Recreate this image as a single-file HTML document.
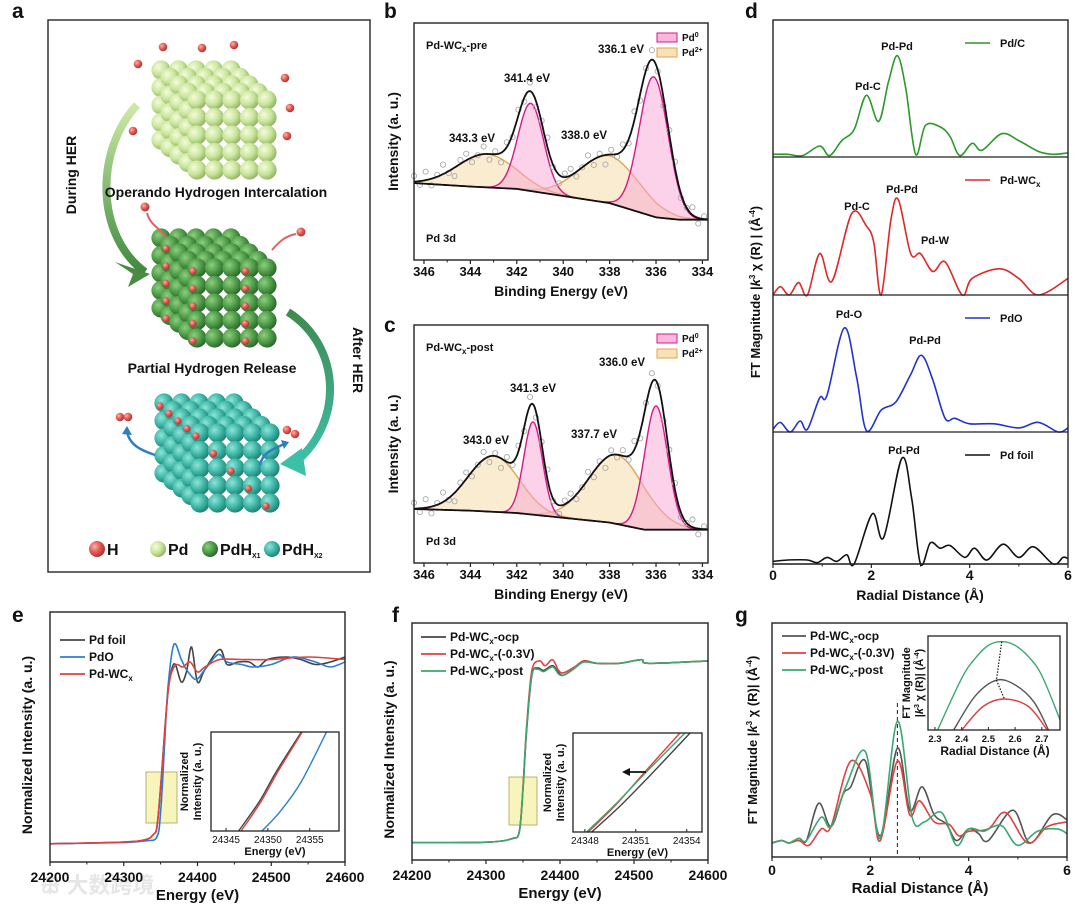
<!DOCTYPE html>
<html><head><meta charset="utf-8">
<style>
html,body{margin:0;padding:0;background:#fff;}
svg{display:block;font-family:"Liberation Sans",Arial,sans-serif;font-weight:bold;}
</style></head>
<body>
<svg id="fig" width="1080" height="910" viewBox="0 0 1080 910" xmlns="http://www.w3.org/2000/svg">
<defs>
<radialGradient id="gPd" cx="35%" cy="35%" r="70%"><stop offset="0" stop-color="#f4fbdc"/><stop offset="0.55" stop-color="#c9e59b"/><stop offset="1" stop-color="#8fb262"/></radialGradient>
<radialGradient id="gX1" cx="35%" cy="35%" r="70%"><stop offset="0" stop-color="#8bcf7e"/><stop offset="0.55" stop-color="#4e9a48"/><stop offset="1" stop-color="#2a6428"/></radialGradient>
<radialGradient id="gX2" cx="35%" cy="35%" r="70%"><stop offset="0" stop-color="#8ee5d8"/><stop offset="0.55" stop-color="#3cb5a5"/><stop offset="1" stop-color="#1f7d70"/></radialGradient>
<radialGradient id="gH" cx="35%" cy="35%" r="70%"><stop offset="0" stop-color="#ffb0a8"/><stop offset="0.5" stop-color="#e55a55"/><stop offset="1" stop-color="#a83030"/></radialGradient>
<linearGradient id="arrL" x1="0" y1="0" x2="0" y2="1"><stop offset="0" stop-color="#cdeaa8"/><stop offset="1" stop-color="#3f8a3e"/></linearGradient>
<linearGradient id="arrR" x1="0" y1="0" x2="0" y2="1"><stop offset="0" stop-color="#3f8a4e"/><stop offset="1" stop-color="#3cc0a8"/></linearGradient>
</defs>
</svg>
<script>
// ---------------- DATA ----------------
const bPd0Centers=[336.1,341.4], bPd0Amps=[0.59,0.37], bPd0Sig=[0.62,0.55];
const bPd2Centers=[338.0,343.3], bPd2Amps=[0.20,0.14], bPd2Sig=[1.3,1.25];
const bBgE=[346.5,344,342,340,338,337,336,335,333.5], bBgV=[0.325,0.31,0.30,0.27,0.24,0.21,0.18,0.17,0.17];
const bLabels=["343.3 eV","341.4 eV","338.0 eV","336.1 eV"];
const cPd0Centers=[336.0,341.3], cPd0Amps=[0.52,0.39], cPd0Sig=[0.5,0.4];
const cPd2Centers=[337.7,343.0], cPd2Amps=[0.29,0.235], cPd2Sig=[1.2,1.1];
const cBgE=[346.5,344,342,340,338,336.5,335,333.5], cBgV=[0.227,0.22,0.21,0.19,0.17,0.14,0.14,0.14];
const cLabels=["343.0 eV","341.3 eV","337.7 eV","336.0 eV"];
const xpsNoise=[0.03,-0.02,0.045,-0.035,0.01,0.05,-0.01,-0.045,0.02,0.035,-0.025,0.0,0.04,-0.03,0.015,-0.05,0.025,-0.015];
const xpsTicks=[346,344,342,340,338,336,334];
const dPdC=[[0,0.02],[0.3,0.02],[0.6,0.01],[0.95,0.08],[1.15,0.01],[1.4,0.12],[1.65,0.2],[1.9,0.45],[2.15,0.26],[2.35,0.55],[2.53,0.74],[2.7,0.5],[2.9,0.02],[3.1,0.23],[3.4,0.22],[3.6,0.15],[3.8,0.01],[4.05,0.1],[4.25,0.05],[4.65,0.17],[5.0,0.12],[5.4,0.04],[5.7,0.02],[6,0.03]];
const dPdWCx=[[0,0.0],[0.15,0.06],[0.33,0.0],[0.52,0.09],[0.7,0.0],[0.95,0.3],[1.2,0.1],[1.6,0.59],[1.9,0.5],[2.05,0.38],[2.2,0.0],[2.4,0.55],[2.55,0.69],[2.8,0.3],[3.0,0.3],[3.25,0.17],[3.5,0.24],[3.85,0.0],[4.05,0.12],[4.6,0.19],[5.0,0.12],[5.4,0.0],[6,0.12]];
const dPdO=[[0,0.02],[0.15,0.07],[0.35,0.0],[0.55,0.08],[0.7,0.02],[0.95,0.25],[1.1,0.27],[1.45,0.76],[1.7,0.4],[1.9,0.01],[2.2,0.16],[2.5,0.22],[2.8,0.42],[3.02,0.56],[3.25,0.38],[3.5,0.1],[3.7,0.1],[4.0,0.06],[4.5,0.06],[5.0,0.03],[5.4,0.07],[5.8,0.0],[6,0.03]];
const dFoil=[[0,0.02],[0.3,0.03],[0.7,0.03],[0.9,0.01],[1.1,0.05],[1.3,0.02],[1.5,0.07],[1.65,0.0],[2.02,0.38],[2.25,0.2],[2.62,0.8],[2.82,0.5],[3.0,0.0],[3.2,0.16],[3.4,0.12],[3.6,0.14],[3.9,0.05],[4.1,0.12],[4.35,0.03],[4.68,0.15],[5.0,0.05],[5.3,0.13],[5.7,0.0],[5.9,0.05],[6,0.04]];
const dTicks=[0,2,4,6];
const eFoil=[[24200,0.073],[24300,0.08],[24330,0.09],[24340,0.11],[24345,0.14],[24350,0.3],[24355,0.5],[24360,0.68],[24365,0.77],[24370,0.79],[24378,0.72],[24385,0.76],[24392,0.86],[24400,0.72],[24410,0.77],[24430,0.85],[24440,0.79],[24455,0.8],[24470,0.8],[24482,0.78],[24495,0.81],[24520,0.82],[24540,0.81],[24560,0.79],[24580,0.8],[24600,0.82]];
const ePdO=[[24200,0.073],[24300,0.078],[24330,0.085],[24345,0.1],[24350,0.2],[24355,0.45],[24360,0.7],[24368,0.87],[24378,0.81],[24385,0.77],[24398,0.73],[24410,0.77],[24428,0.83],[24440,0.8],[24460,0.79],[24475,0.78],[24500,0.79],[24530,0.82],[24560,0.8],[24580,0.78],[24600,0.8]];
const eWCx=[[24200,0.073],[24300,0.08],[24330,0.09],[24340,0.11],[24345,0.14],[24350,0.3],[24355,0.5],[24360,0.68],[24365,0.76],[24372,0.79],[24380,0.78],[24390,0.8],[24400,0.76],[24410,0.78],[24430,0.81],[24460,0.81],[24500,0.81],[24550,0.82],[24600,0.81]];
const eInFoil=[[24346.5,0],[24349,0.3],[24351,0.6],[24354,1.0]];
const eInWCx=[[24346.8,0],[24349.2,0.3],[24351.2,0.6],[24354.1,1.0]];
const eInPdO=[[24349.3,0],[24351.5,0.2],[24354,0.5],[24357,1.0]];
const eTicks=[24200,24300,24400,24500,24600], eInTicks=[24345,24350,24355];
const fOcp=[[24200,0.073],[24300,0.075],[24335,0.09],[24345,0.12],[24350,0.3],[24355,0.55],[24362,0.78],[24370,0.81],[24378,0.8],[24390,0.82],[24398,0.79],[24405,0.78],[24420,0.81],[24432,0.84],[24450,0.83],[24480,0.83],[24510,0.845],[24520,0.83],[24600,0.84]];
const fNeg=[[24200,0.073],[24300,0.075],[24335,0.09],[24345,0.12],[24350,0.31],[24355,0.57],[24362,0.8],[24372,0.84],[24380,0.82],[24390,0.845],[24398,0.8],[24405,0.79],[24420,0.815],[24432,0.84],[24450,0.83],[24480,0.83],[24510,0.845],[24520,0.83],[24600,0.84]];
const fPost=[[24200,0.073],[24300,0.075],[24335,0.09],[24345,0.12],[24350,0.3],[24355,0.56],[24362,0.78],[24370,0.805],[24378,0.795],[24390,0.815],[24398,0.785],[24405,0.78],[24420,0.81],[24432,0.835],[24450,0.83],[24480,0.83],[24510,0.845],[24520,0.83],[24600,0.84]];
const fInOcp=[[24348.4,0],[24350,0.25],[24352,0.6],[24354.2,1.0]];
const fInNeg=[[24348.2,0],[24349.8,0.27],[24351.5,0.6],[24353.6,1.0]];
const fInPost=[[24348.1,0],[24349.8,0.28],[24351.7,0.62],[24353.9,1.0]];
const fInTicks=[24348,24351,24354];
const gOcp=[[0,0.06],[0.2,0.07],[0.35,0.06],[0.55,0.08],[0.7,0.07],[0.95,0.23],[1.2,0.13],[1.45,0.27],[1.6,0.3],[1.9,0.41],[2.2,0.09],[2.55,0.465],[2.8,0.2],[3.05,0.3],[3.3,0.18],[3.55,0.14],[3.75,0.07],[4.0,0.12],[4.2,0.1],[4.4,0.07],[4.9,0.2],[5.25,0.06],[5.7,0.18],[6,0.16]];
const gNeg=[[0,0.06],[0.2,0.07],[0.35,0.06],[0.55,0.07],[0.75,0.05],[1.0,0.12],[1.2,0.13],[1.6,0.41],[2.0,0.27],[2.2,0.07],[2.55,0.41],[2.8,0.18],[3.0,0.24],[3.3,0.15],[3.6,0.14],[3.8,0.09],[4.0,0.11],[4.4,0.12],[4.75,0.19],[5.2,0.06],[5.6,0.13],[6,0.15]];
const gPost=[[0,0.06],[0.2,0.07],[0.35,0.06],[0.55,0.08],[0.7,0.07],[1.0,0.17],[1.2,0.13],[1.5,0.3],[1.9,0.45],[2.2,0.08],[2.55,0.58],[2.85,0.17],[3.1,0.15],[3.45,0.19],[3.75,0.05],[4.0,0.12],[4.3,0.11],[4.5,0.13],[4.7,0.13],[5.0,0.05],[5.4,0.11],[5.8,0.12],[6,0.1]];
const gInPost=[[2.31,0.0],[2.4,0.55],[2.45,0.76],[2.5,0.9],[2.55,0.94],[2.6,0.9],[2.65,0.78],[2.7,0.58],[2.768,0.11]];
const gInOcp=[[2.37,0.0],[2.45,0.36],[2.53,0.53],[2.6,0.48],[2.67,0.3],[2.725,0.0]];
const gInNeg=[[2.4,0.0],[2.48,0.25],[2.56,0.33],[2.65,0.25],[2.72,0.0]];
const gTicks=[0,2,4,6], gInTicks=[2.3,2.4,2.5,2.6,2.7];

// ---------------- HELPERS ----------------
const NS='http://www.w3.org/2000/svg';
const svg=document.getElementById('fig');
function mk(tag,attrs,parent){const e=document.createElementNS(NS,tag);for(const k in attrs)e.setAttribute(k,attrs[k]);(parent||svg).appendChild(e);return e;}
function lin(d0,d1,r0,r1){return v=>r0+(v-d0)*(r1-r0)/(d1-d0);}
function smooth(pts){let d='M'+pts[0][0].toFixed(1)+','+pts[0][1].toFixed(1);
 for(let i=0;i<pts.length-1;i++){const p0=pts[Math.max(0,i-1)],p1=pts[i],p2=pts[i+1],p3=pts[Math.min(pts.length-1,i+2)];
 const c1=[p1[0]+(p2[0]-p0[0])/6,p1[1]+(p2[1]-p0[1])/6],c2=[p2[0]-(p3[0]-p1[0])/6,p2[1]-(p3[1]-p1[1])/6];
 d+=' C'+c1.map(v=>v.toFixed(1))+' '+c2.map(v=>v.toFixed(1))+' '+p2[0].toFixed(1)+','+p2[1].toFixed(1);}return d;}
function txt(x,y,s,size,anchor,parent){const t=mk('text',{x:x,y:y,'font-size':size||12,'text-anchor':anchor||'start',fill:'#111'},parent);t.innerHTML=s;return t;}
function vtxt(x,y,s,size,parent,rot){const t=mk('text',{x:0,y:0,'font-size':size||13,'text-anchor':'middle',fill:'#111',transform:'translate('+x+','+y+') rotate('+(rot||-90)+')'},parent);t.innerHTML=s;return t;}
function frame(x0,y0,x1,y1,name){const r=mk('rect',{x:x0,y:y0,width:x1-x0,height:y1-y0,fill:'none',stroke:'#222','stroke-width':1.4});return r;}
function interp(arr,x){for(let i=0;i<arr.length-1;i++){if(x>=arr[i][0]&&x<=arr[i+1][0]||x<=arr[i][0]&&x>=arr[i+1][0]){const t=(x-arr[i][0])/(arr[i+1][0]-arr[i][0]);return arr[i][1]+t*(arr[i+1][1]-arr[i][1]);}}return arr[arr.length-1][1];}
function xTicks(g,sx,ticks,yb,labY,size,minor){ticks.forEach(t=>{mk('line',{x1:sx(t),x2:sx(t),y1:yb,y2:yb+4,stroke:'#222','stroke-width':1.2},g);txt(sx(t),labY,String(t),size||14,'middle',g);});
 if(minor)minor.forEach(t=>mk('line',{x1:sx(t),x2:sx(t),y1:yb,y2:yb+2.5,stroke:'#222','stroke-width':1},g));}
function panelLabel(x,y,s){const t=txt(x,y,s,21,'start');}

const wm=txt(40,893,'ꕥ 大数跨境',22,'start');
wm.setAttribute('fill','#e6e6e6');
wm.setAttribute('font-family','"Liberation Sans","Noto Sans CJK SC",sans-serif');



// ---------------- PANEL A ----------------
const ga=mk('g',{});


panelLabel(12,18,'a');
mk('rect',{x:48,y:20,width:322,height:552,fill:'#fff',stroke:'#333','stroke-width':1.5},ga);
function cube(x0,y0,fill,hSet,name){const g=mk('g',{},ga);
 const s=17.5,dx=-9,dy=-7.5,r=9.6;
 for(let k=4;k>=0;k--)for(let j=0;j<5;j++)for(let i=0;i<5;i++){
  if(k>0&&i>0&&j>0)continue;
  const cx=x0+i*s+k*dx,cy=y0+j*s+k*dy;
  mk('circle',{cx:cx,cy:cy,r:r,fill:'url(#'+fill+')'},g);
  if(hSet&&((i*7+j*3+k*5)%hSet===0))mk('circle',{cx:cx-4,cy:cy+3,r:3.6,fill:'url(#gH)'},g);}
 return g;}
const la=mk('path',{d:'M137,105 C95,150 95,235 145,272',fill:'none',stroke:'url(#arrL)','stroke-width':8},ga);

mk('path',{d:'M115,262 L150,274 L128,287 L133,274 Z',fill:'#4a8a45'},ga);
const ra=mk('path',{d:'M288,312 C340,345 345,420 296,462',fill:'none',stroke:'url(#arrR)','stroke-width':8},ga);

mk('path',{d:'M280,464 L302,448 L306,476 Z',fill:'#3cc0a8'},ga);
cube(197,100,'gPd',0,'pd-cube');
cube(197,268,'gX1',3,'pdhx1-cube');
cube(200,433,'gX2',5,'pdhx2-cube');
[[163,47],[202,48],[234,45],[138,64],[285,78],[290,108],[133,131],[287,136]].forEach(p=>mk('circle',{cx:p[0],cy:p[1],r:4.3,fill:'url(#gH)'},ga));
[[145,207],[301,232]].forEach(p=>mk('circle',{cx:p[0],cy:p[1],r:4.5,fill:'url(#gH)'},ga));
mk('path',{d:'M147,213 C150,225 160,228 166,237',fill:'none',stroke:'#e06060','stroke-width':2},ga);
mk('path',{d:'M296,234 C285,236 279,242 272,250',fill:'none',stroke:'#e06060','stroke-width':2},ga);
[[120,417],[128,417],[287,430],[295,434]].forEach(p=>mk('circle',{cx:p[0],cy:p[1],r:4.3,fill:'url(#gH)'},ga));
mk('path',{d:'M155,455 C140,450 130,445 127,432',fill:'none',stroke:'#2d7fc0','stroke-width':2.5},ga);
mk('path',{d:'M122,434 L127,426 L132,435 Z',fill:'#2d7fc0'},ga);
mk('path',{d:'M260,465 C263,452 272,450 284,444',fill:'none',stroke:'#2d7fc0','stroke-width':2.5},ga);
mk('path',{d:'M281,440 L289,442 L284,449 Z',fill:'#2d7fc0'},ga);
txt(216,197,'Operando Hydrogen Intercalation',14,'middle',ga);
txt(212,373,'Partial Hydrogen Release',14,'middle',ga);
vtxt(76,175,'During HER',14,ga,-90);
vtxt(353,360,'After HER',14,ga,90);
const legA=[[97,'gH','H',''],[158,'gPd','Pd',''],[210,'gX1','PdH','X1'],[272,'gX2','PdH','X2']];
legA.forEach(l=>{const c=mk('circle',{cx:l[0],cy:549,r:8,fill:'url(#'+l[1]+')'},ga);
 txt(l[0]+10,555,l[2]+(l[3]?'<tspan font-size="7" dy="3">'+l[3]+'</tspan>':''),16,'start',ga);});

// ---------------- XPS PANELS ----------------
function xps(name,y0,y1,centers0,amps0,sig0,centers2,amps2,sig2,bgE,bgV,title,labels,labelPos,legY){
 const g=mk('g',{});
 const sx=lin(346.43,333.76,414,708), sy=lin(0,1,y1,y0);
 const bg=e=>interp(bgE.map((v,i)=>[v,bgV[i]]),e);
 const gauss=(e,c,a,s)=>a*Math.exp(-((e-c)*(e-c))/(2*s*s));
 const Es=[];for(let e=346.43;e>=333.76;e-=0.05)Es.push(e);
 const comp=(c,a,s)=>Es.map(e=>[sx(e),sy(bg(e)+gauss(e,c,a,s))]);
 const base=Es.map(e=>[sx(e),sy(bg(e))]);
 function area(c,a,s,fill,stroke,nm){const top=comp(c,a,s);
  const p=mk('path',{d:'M'+top.map(p=>p.join(',')).join(' L')+' L'+base.slice().reverse().map(p=>p.join(',')).join(' L')+' Z',fill:fill,'fill-opacity':0.5,stroke:'none'},g);
  
  mk('path',{d:'M'+top.map(p=>p.join(',')).join(' L'),fill:'none',stroke:stroke,'stroke-width':1.4},g);}
 centers2.forEach((c,i)=>area(c,amps2[i],sig2[i],'#f5d9a2','#e0a35a','pd2-peak-'+c));
 centers0.forEach((c,i)=>area(c,amps0[i],sig0[i],'#f7a6d4','#d41a8a','pd0-peak-'+c));
 const env=Es.map(e=>{let v=bg(e);centers0.forEach((c,i)=>v+=gauss(e,c,amps0[i],sig0[i]));centers2.forEach((c,i)=>v+=gauss(e,c,amps2[i],sig2[i]));return v;});
 let k=0;for(let j=0;j<Es.length;j+=5){const e=Es[j];const v=env[j]+xpsNoise[k%xpsNoise.length]*0.8;k++;
  mk('circle',{cx:sx(e),cy:sy(v),r:2.6,fill:'none',stroke:'#aaa','stroke-width':0.9},g);}
 const bl=mk('path',{d:'M'+base.map(p=>p.join(',')).join(' L'),fill:'none',stroke:'#111','stroke-width':1.8},g);
 
 const ev=mk('path',{d:'M'+Es.map((e,i)=>sx(e).toFixed(1)+','+sy(env[i]).toFixed(1)).join(' L'),fill:'none',stroke:'#111','stroke-width':1.8},g);
 
 frame(414,y0,708,y1,name+'-frame');
 xTicks(g,sx,xpsTicks,y1,y1+16,13,[345,343,341,339,337,335]);
 txt(561,y1+36,'Binding Energy (eV)',14,'middle',g);
 vtxt(398,(y0+y1)/2,'Intensity (a. u.)',14,g);
 txt(426,y0+26,title,11,'start',g);
 txt(426,y1-18,'Pd 3d',11,'start',g);
 labels.forEach((s,i)=>txt(labelPos[i][0],labelPos[i][1],s,11.5,'middle',g));
 const lg=mk('g',{},g);
 mk('rect',{x:657,y:legY,width:20,height:9,fill:'#f7b8dc',stroke:'#d41a8a','stroke-width':1},lg);
 mk('rect',{x:657,y:legY+15,width:20,height:9,fill:'#f6e2b5',stroke:'#e0a35a','stroke-width':1},lg);
 txt(682,legY+8,'Pd<tspan font-size="7" dy="-4">0</tspan>',10,'start',lg);
 txt(682,legY+23,'Pd<tspan font-size="7" dy="-4">2+</tspan>',10,'start',lg);
}
panelLabel(384,18,'b');
xps('panel-b-xps-pre',23,260,bPd0Centers,bPd0Amps,bPd0Sig,bPd2Centers,bPd2Amps,bPd2Sig,bBgE,bBgV,'Pd-WC<tspan font-size="8" dy="3">x</tspan><tspan dy="-3">-pre</tspan>',bLabels,[[472,142],[527,82],[584,139],[621,53]],33);
panelLabel(384,332,'c');
xps('panel-c-xps-post',325,563,cPd0Centers,cPd0Amps,cPd0Sig,cPd2Centers,cPd2Amps,cPd2Sig,cBgE,cBgV,'Pd-WC<tspan font-size="8" dy="3">x</tspan><tspan dy="-3">-post</tspan>',cLabels,[[486,444],[533,392],[594,438],[622,366]],334);

// ---------------- PANEL D ----------------
(function(){
 const g=mk('g',{});
 panelLabel(745,18,'d');
 const sx=lin(0,6,773,1068);
 const subs=[[20,157,dPdC,'#2a9a2a','Pd/C',[['Pd-Pd',897,50],['Pd-C',868,90]]],
  [157,295,dPdWCx,'#e02828','Pd-WC<tspan font-size="8" dy="3">x</tspan>',[['Pd-Pd',902,193],['Pd-C',857,210],['Pd-W',935,244]]],
  [295,432,dPdO,'#2233cc','PdO',[['Pd-O',849,318],['Pd-Pd',925,344]]],
  [432,564,dFoil,'#111','Pd foil',[['Pd-Pd',904,454]]]];
 subs.forEach((s,idx)=>{
  const sy=lin(0,1,s[1],s[0]);
  const p=mk('path',{d:smooth(s[2].map(q=>[sx(q[0]),sy(q[1])])),fill:'none',stroke:s[3],'stroke-width':1.6},g);
  
  
  mk('line',{x1:773,x2:1068,y1:s[1],y2:s[1],stroke:'#222','stroke-width':1.2},g);
  mk('line',{x1:965,x2:990,y1:s[0]+23,y2:s[0]+23,stroke:s[3],'stroke-width':1.6},g);
  txt(1000,s[0]+27,s[4],11,'start',g);
  s[5].forEach(a=>txt(a[1],a[2],a[0],11,'middle',g));
 });
 frame(773,20,1068,564,'panel-d-frame');
 xTicks(g,sx,dTicks,564,580,14,[1,3,5]);
 txt(920,600,'Radial Distance (Å)',14,'middle',g);
 vtxt(760,292,'FT Magnitude |<tspan font-style="italic">k</tspan><tspan font-size="8" dy="-5">3</tspan><tspan dy="5"> χ (R) | (Å</tspan><tspan font-size="8" dy="-5">-4</tspan><tspan dy="5">)</tspan>',13,g);
})();

// ---------------- XANES PANELS ----------------
function xanes(name,X0,X1,Y0,Y1,series,colors,legendNames,box,inset,inSeries,inRange,inTicks,inLabelX,legX,legY0){
 const g=mk('g',{});
 const sx=lin(24200,24600,X0,X1),sy=lin(0,1,Y1,Y0);
 const yb=mk('rect',{x:box[0],y:box[1],width:box[2]-box[0],height:box[3]-box[1],fill:'#f4f0a0','fill-opacity':0.7,stroke:'#b8b070','stroke-width':1},g);
 
 series.forEach((s,i)=>{const p=mk('path',{d:smooth(s.map(q=>[sx(q[0]),sy(q[1])])),fill:'none',stroke:colors[i],'stroke-width':1.6},g);
  });
 frame(X0,Y0,X1,Y1,name+'-frame');
 xTicks(g,sx,eTicks,Y1,Y1+20,14,[24250,24350,24450,24550]);
 txt((X0+X1)/2,Y1+38,'Energy (eV)',15,'middle',g);
 vtxt(X0-18,(Y0+Y1)/2+8,'Normalized Intensity (a. u.)',14,g);
 legendNames.forEach((n,i)=>{mk('line',{x1:legX,x2:legX+25,y1:legY0+i*17,y2:legY0+i*17,stroke:colors[i],'stroke-width':1.8},g);
  txt(legX+29,legY0+i*17+4,n,12,'start',g);});
 const ig=mk('g',{},g);
 mk('rect',{x:inset[0],y:inset[1],width:inset[2]-inset[0],height:inset[3]-inset[1],fill:'#fff'},ig);
 const ix=lin(inRange[0],inRange[1],inset[0],inset[2]),iy=lin(0,1,inset[3],inset[1]);
 mk('clipPath',{id:'clip'+name},ig).appendChild(document.createElementNS(NS,'rect'));
 const cr=ig.querySelector('clipPath rect');cr.setAttribute('x',inset[0]);cr.setAttribute('y',inset[1]);cr.setAttribute('width',inset[2]-inset[0]);cr.setAttribute('height',inset[3]-inset[1]);
 inSeries.forEach((s,i)=>{const p=mk('path',{d:smooth(s.map(q=>[ix(q[0]),iy(q[1])])),fill:'none',stroke:colors[i],'stroke-width':1.4,'clip-path':'url(#clip'+name+')'},ig);
  });
 mk('rect',{x:inset[0],y:inset[1],width:inset[2]-inset[0],height:inset[3]-inset[1],fill:'none',stroke:'#222','stroke-width':1.3},ig);
 inTicks.forEach(t=>{mk('line',{x1:ix(t),x2:ix(t),y1:inset[3],y2:inset[3]-3,stroke:'#222'},ig);txt(ix(t),inset[3]+12,String(t),10,'middle',ig).setAttribute('font-weight','normal');});
 txt((inset[0]+inset[2])/2,inset[3]+24,'Energy (eV)',11,'middle',ig);
 vtxt(inLabelX,(inset[1]+inset[3])/2,'Normalized',11,ig);
 vtxt(inLabelX+13,(inset[1]+inset[3])/2,'Intensity (a. u.)',11,ig);
 return {g:g,ix:ix,iy:iy};
}
panelLabel(12,622,'e');
xanes('panel-e-xanes',50,345,612,862,[eFoil,ePdO,eWCx],['#444','#2a7fd0','#e04040'],['Pd foil','PdO','Pd-WC<tspan font-size="8" dy="3">x</tspan>'],[146,772,177,823],[211,732,339,831],[eInFoil,eInPdO,eInWCx],[24343.2,24358.5],eInTicks,188,60,640);
panelLabel(392,622,'f');
xanes('panel-f-xanes',412,708,623,860,[fOcp,fNeg,fPost],['#444','#e04040','#3aa870'],['Pd-WC<tspan font-size="8" dy="3">x</tspan><tspan dy="-3">-ocp</tspan>','Pd-WC<tspan font-size="8" dy="3">x</tspan><tspan dy="-3">-(-0.3V)</tspan>','Pd-WC<tspan font-size="8" dy="3">x</tspan><tspan dy="-3">-post</tspan>'],[509,777,537,825],[573,733,702,832],[fInOcp,fInNeg,fInPost],[24347.3,24354.9],fInTicks,551,421,637);
mk('line',{x1:646,x2:626,y1:772,y2:772,stroke:'#111','stroke-width':1.8});
const ah=mk('path',{d:'M622,772 L630,768 L630,776 Z',fill:'#111'});


// ---------------- PANEL G ----------------
(function(){
 const g=mk('g',{});
 panelLabel(735,622,'g');
 const sx=lin(0,6,772,1067),sy=lin(0,1,857,623);
 const cols=['#555','#e04040','#3aa870'];
 mk('line',{x1:sx(2.55),x2:sx(2.55),y1:703,y2:857,stroke:'#222','stroke-width':1,'stroke-dasharray':'4,3'},g);
 [gOcp,gNeg,gPost].forEach((s,i)=>{const p=mk('path',{d:smooth(s.map(q=>[sx(q[0]),sy(q[1])])),fill:'none',stroke:cols[i],'stroke-width':1.6},g);
  });
 frame(772,623,1067,857,'panel-g-frame');
 xTicks(g,sx,gTicks,857,875,14,[1,3,5]);
 txt(920,893,'Radial Distance (Å)',15,'middle',g);
 vtxt(757,740,'FT Magnitude |<tspan font-style="italic">k</tspan><tspan font-size="8" dy="-5">3</tspan><tspan dy="5"> χ (R)|  (Å</tspan><tspan font-size="8" dy="-5">-4</tspan><tspan dy="5">)</tspan>',13,g);
 ['Pd-WC<tspan font-size="8" dy="3">x</tspan><tspan dy="-3">-ocp</tspan>','Pd-WC<tspan font-size="8" dy="3">x</tspan><tspan dy="-3">-(-0.3V)</tspan>','Pd-WC<tspan font-size="8" dy="3">x</tspan><tspan dy="-3">-post</tspan>'].forEach((n,i)=>{
  mk('line',{x1:782,x2:806,y1:636+i*17,y2:636+i*17,stroke:cols[i],'stroke-width':1.8},g);txt(810,640+i*17,n,12,'start',g);});
 const ig=mk('g',{},g);
 const I=[928,636,1060,730];
 const ix=lin(2.274,2.768,I[0],I[2]),iy=lin(0,1,I[3],I[1]);
 mk('rect',{x:I[0],y:I[1],width:I[2]-I[0],height:I[3]-I[1],fill:'#fff'},ig);
 [gInOcp,gInNeg,gInPost].forEach((s,i)=>{const p=mk('path',{d:smooth(s.map(q=>[ix(q[0]),iy(q[1])])),fill:'none',stroke:cols[i],'stroke-width':1.4},ig);
  });
 mk('polyline',{points:[ix(2.55),iy(0.94),ix(2.53),iy(0.53),ix(2.56),iy(0.33)].join(','),fill:'none',stroke:'#111','stroke-width':1.2,'stroke-dasharray':'1.5,1.5'},ig);
 mk('rect',{x:I[0],y:I[1],width:I[2]-I[0],height:I[3]-I[1],fill:'none',stroke:'#222','stroke-width':1.3},ig);
 gInTicks.forEach(t=>{mk('line',{x1:ix(t),x2:ix(t),y1:I[3],y2:I[3]-3,stroke:'#222'},ig);txt(ix(t),I[3]+12,String(t),9.5,'middle',ig);});
 txt(995,755,'Radial Distance (Å)',12,'middle',ig);
 vtxt(910,683,'FT Magnitude',11,ig);
 vtxt(923,683,'|<tspan font-style="italic">k</tspan><tspan font-size="7" dy="-4">3</tspan><tspan dy="4"> χ (R)|  (Å</tspan><tspan font-size="7" dy="-4">-4</tspan><tspan dy="4">)</tspan>',11,ig);
})();
</script>
</body></html>
